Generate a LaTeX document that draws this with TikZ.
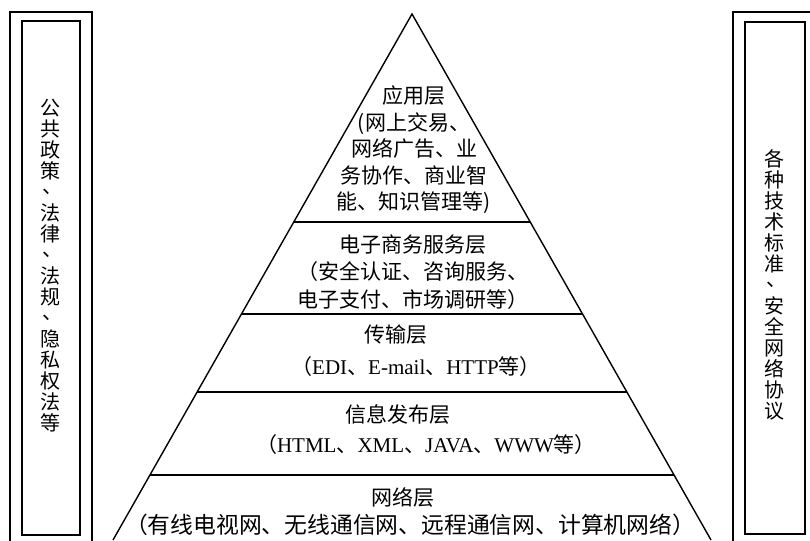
\documentclass[tikz,border=0pt]{standalone}
\usepackage{fontspec}
\setmainfont{Noto Sans CJK SC}
\newfontfamily\latin{Liberation Serif}
\usetikzlibrary{calc}
\newcommand\vdunhao{\raisebox{0.32em}{\makebox[1em][l]{\hspace{0.12em}、}}}
\begin{document}
\begin{tikzpicture}[x=1pt,y=-1pt,
  edge/.style={line width=1.4pt, line join=miter, line cap=butt},
  panel/.style={line width=1.3pt},
  ltext/.style={align=center, inner sep=0pt, font=\fontsize{21}{26.5}\selectfont},
  vtext/.style={align=center, inner sep=0pt, font=\fontsize{20}{21}\selectfont}]
\useasboundingbox (0,0) rectangle (810,540);
\fill[white] (0,0) rectangle (810,540);
\clip (0,0) rectangle (810,540);

% side panels
\draw[panel] (10,12) rectangle (92,548);
\draw[panel] (22,21) rectangle (80,535);
\draw[panel] (733,12) rectangle (818,548);
\draw[panel] (745,22) rectangle (805,534);

\node[vtext] (left) at (50,266) {公\\共\\政\\策\\\vdunhao\\法\\律\\\vdunhao\\法\\规\\\vdunhao\\隐\\私\\权\\法\\等};
\node[vtext] (right) at (774,285) {各\\种\\技\\术\\标\\准\\\vdunhao\\安\\全\\网\\络\\协\\议};

% pyramid
\coordinate (A) at (412,14);
\coordinate (BL) at (113,540);
\coordinate (BR) at (711,540);
\draw[edge] (BL) -- (A) -- (BR);
\foreach \t/\n in {0.3954/a, 0.5703/b, 0.7186/c, 0.8764/d}{
  \coordinate (L\n) at ($(A)!\t!(BL)$);
  \coordinate (R\n) at ($(A)!\t!(BR)$);
  \draw[edge] (L\n) -- (R\n);
}

% layer texts
\node[ltext] (app) at (414,150) {应用层\\(网上交易、\\网络广告、业\\务协作、商业智\\能、知识管理等)};
\node[ltext, font=\fontsize{21}{27.5}\selectfont] (ecom) at (413,272) {电子商务服务层\\（安全认证、咨询服务、\\电子支付、市场调研等）};
\node[ltext] (t1) at (396,335) {传输层};
\node[ltext] (t2) at (416,367) {（{\latin EDI}、{\latin E-mail}、{\latin HTTP}等）};
\node[ltext] (i1) at (398,415) {信息发布层};
\node[ltext] (i2) at (426,445) {（{\latin HTML}、{\latin XML}、{\latin JAVA}、{\latin WWW}等）};
\node[ltext] (n1) at (403,497) {网络层};
\node[ltext, font=\fontsize{22.8}{26.5}\selectfont] (n2) at (410,525) {（有线电视网、无线通信网、远程通信网、计算机网络）};
\end{tikzpicture}
\end{document}
